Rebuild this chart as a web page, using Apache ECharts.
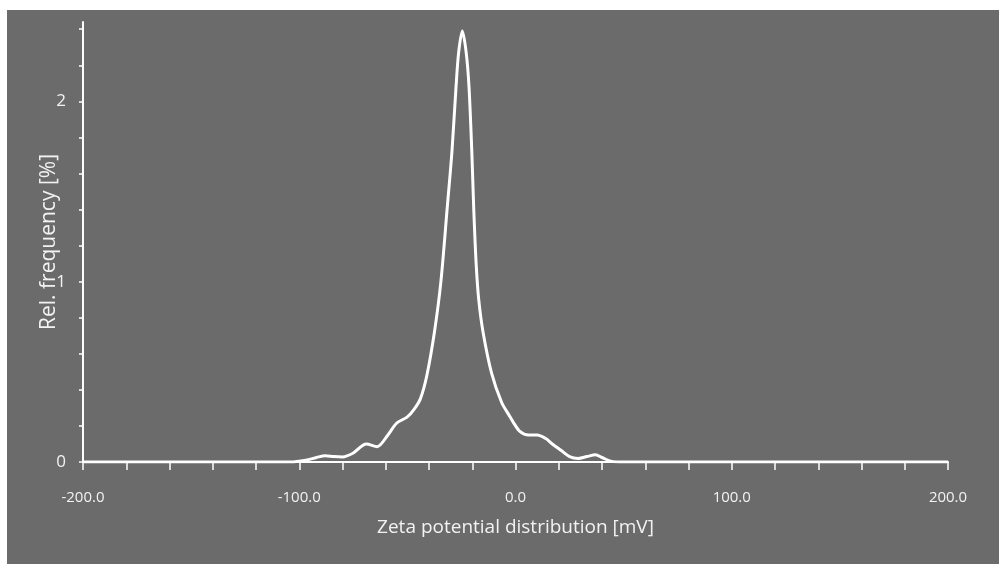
<!DOCTYPE html>
<html>
<head>
<meta charset="utf-8">
<script src="https://cdn.jsdelivr.net/npm/echarts@6/dist/echarts.min.js"></script>
<style>
html,body{margin:0;padding:0;background:#ffffff;width:999px;height:564px;overflow:hidden;}
#c{position:absolute;left:7px;top:10px;width:992px;height:554px;}
</style>
</head>
<body>
<div id="c"></div>
<script>
// Zeta potential (mV) and relative frequency (%)
const zeta = [-200,-104,-97,-92,-88,-84,-80,-75,-69,-64,-59,-55,-50,-47,-44,-41,-37.5,-34.5,-31.5,-29.4,-27.5,-26.3,-24.6,-22.8,-21.5,-20.2,-19.3,-18.2,-17,-15,-11,-6.4,-3,-1,2,6,10,14,17,21,25,29,33,37,40,44,50,200];
const freq = [0,0,0.01,0.025,0.035,0.03,0.028,0.05,0.1,0.085,0.15,0.215,0.25,0.29,0.35,0.48,0.72,1.0,1.42,1.72,2.08,2.27,2.39,2.27,2.08,1.72,1.4,1.1,0.9,0.72,0.49,0.33,0.26,0.22,0.17,0.15,0.15,0.13,0.1,0.065,0.03,0.02,0.03,0.04,0.025,0.005,0,0];
const xTicks = [-200,-180,-160,-140,-120,-100,-80,-60,-40,-20,0,20,40,60,80,100,120,140,160,180,200];
const xLabels = [-200,-100,0,100,200];
const yTicks = [0,0.2,0.4,0.6,0.8,1,1.2,1.4,1.6,1.8,2,2.2,2.4];
const yLabels = [0,1,2];

const data = zeta.map((z,i)=>[z,freq[i]]);
const font = "'Open Sans', 'Noto Sans', sans-serif";
const chart = echarts.init(document.getElementById('c'));
chart.setOption({
  backgroundColor:'#6b6b6b',
  animation:false,
  grid:{left:76,right:51,top:12,bottom:102,containLabel:false},
  xAxis:{
    type:'value',min:-200,max:200,
    name:'Zeta potential distribution [mV]',nameLocation:'middle',nameGap:56,nameMoveOverlap:false,
    nameTextStyle:{color:'#f2f2f2',fontSize:19,fontFamily:font},
    axisLine:{show:true,onZero:false,lineStyle:{color:'#ffffff',width:2}},
    axisTick:{show:true,customValues:xTicks,length:8,lineStyle:{color:'#ffffff',width:1.5}},
    axisLabel:{customValues:xLabels,color:'#f2f2f2',fontSize:15,fontFamily:font,margin:28,formatter:v=>v.toFixed(1)},
    splitLine:{show:false}
  },
  yAxis:{
    type:'value',min:0,max:2.44,
    name:'Rel. frequency [%]',nameLocation:'middle',nameGap:23,nameRotate:90,nameMoveOverlap:false,
    nameTextStyle:{color:'#f2f2f2',fontSize:21,fontFamily:font},
    axisLine:{show:true,onZero:false,lineStyle:{color:'#ffffff',width:2}},
    axisTick:{show:true,customValues:yTicks,length:4,lineStyle:{color:'#ffffff',width:1.5}},
    axisLabel:{customValues:yLabels,color:'#f2f2f2',fontSize:17,fontFamily:font,margin:17,formatter:v=>String(v)},
    splitLine:{show:false}
  },
  series:[{
    type:'line',data:data,smooth:0.3,showSymbol:false,
    lineStyle:{color:'#ffffff',width:3},z:5
  }]
});
</script>
</body>
</html>
